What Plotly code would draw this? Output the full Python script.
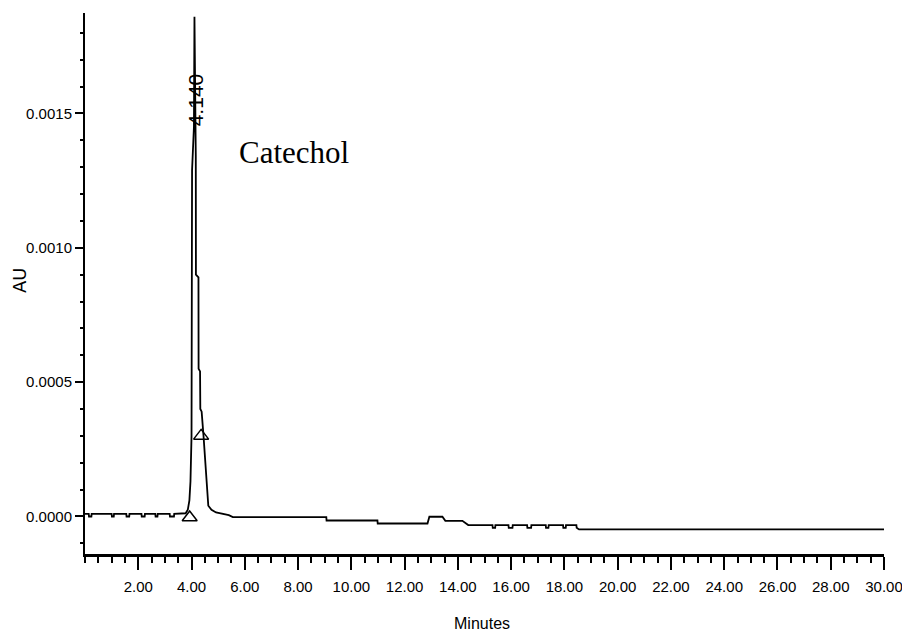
import plotly.graph_objects as go

# Chromatogram trace: retention time (min) and absorbance (AU)
time_min = [
    0.00, 0.14, 0.15, 0.24, 0.25, 1.00, 1.01, 1.08, 1.09, 1.55, 1.56, 1.66,
    1.67, 2.12, 2.13, 2.24, 2.25, 2.64, 2.65, 2.72, 2.73, 3.18, 3.19, 3.34,
    3.35, 3.78, 3.86, 3.92, 3.96, 4.00, 4.02, 4.09, 4.11, 4.13, 4.16, 4.165,
    4.26, 4.265, 4.32, 4.33, 4.38, 4.45, 4.52, 4.58, 4.63, 4.75, 4.92, 5.40,
    5.55, 9.06, 9.07, 10.98, 10.99, 12.86, 12.93, 13.42, 13.53, 14.17, 14.39,
    15.30, 15.31, 15.40, 15.41, 15.90, 15.91, 16.05, 16.06, 16.60, 16.61,
    16.75, 16.76, 17.30, 17.31, 17.40, 17.41, 17.95, 17.96, 18.05, 18.06,
    18.45, 18.46, 18.55, 18.70, 30.00,
]
absorbance_au = [
    0.000010, 0.000010, 0.000000, 0.000000, 0.000010, 0.000010, 0.000000,
    0.000000, 0.000010, 0.000010, 0.000000, 0.000000, 0.000010, 0.000010,
    0.000000, 0.000000, 0.000010, 0.000010, 0.000000, 0.000000, 0.000010,
    0.000010, 0.000000, 0.000000, 0.000010, 0.000012, 0.000025, 0.000060,
    0.000130, 0.000300, 0.001290, 0.001450, 0.001860, 0.001700, 0.001340,
    0.000900, 0.000890, 0.000550, 0.000540, 0.000400, 0.000390, 0.000300,
    0.000200, 0.000100, 0.000040, 0.000025, 0.000015, 0.000005, -0.000002,
    -0.000002, -0.000015, -0.000015, -0.000026, -0.000026, -0.000001,
    -0.000001, -0.000016, -0.000016, -0.000032, -0.000032, -0.000042,
    -0.000042, -0.000032, -0.000032, -0.000042, -0.000042, -0.000032,
    -0.000032, -0.000042, -0.000042, -0.000032, -0.000032, -0.000042,
    -0.000042, -0.000032, -0.000032, -0.000042, -0.000042, -0.000032,
    -0.000032, -0.000042, -0.000048, -0.000048, -0.000048,
]

# Integration markers (peak start / peak end)
marker_time = [3.93, 4.36]
marker_au = [-0.000004, 0.000300]

# Axis ticks
x_tick_vals = [2, 4, 6, 8, 10, 12, 14, 16, 18, 20, 22, 24, 26, 28, 30]
x_tick_text = ["2.00", "4.00", "6.00", "8.00", "10.00", "12.00", "14.00",
               "16.00", "18.00", "20.00", "22.00", "24.00", "26.00",
               "28.00", "30.00"]
y_tick_vals = [0.0, 0.0005, 0.0010, 0.0015]
y_tick_text = ["0.0000", "0.0005", "0.0010", "0.0015"]

peak_label = "4.140"
peak_label_time = 4.14
peak_label_au = 0.00155
compound_name = "Catechol"

SANS = "Liberation Sans, Arial, sans-serif"
SERIF = "Liberation Serif, Times New Roman, serif"

# plot-area box in pixels (used to place free text in paper coordinates)
L, R, T, B = 85, 884, 13, 554


def px_x(px):
    return (px - L) / (R - L)


def px_y(py):
    return (B - py) / (B - T)


fig = go.Figure()
fig.add_trace(go.Scatter(
    x=time_min, y=absorbance_au, mode="lines",
    line=dict(color="black", width=1.8), hoverinfo="skip", showlegend=False,
))
fig.add_trace(go.Scatter(
    x=marker_time, y=marker_au, mode="markers",
    marker=dict(symbol="triangle-up-open", size=13, color="black",
                line=dict(color="black", width=1.5)),
    hoverinfo="skip", showlegend=False,
))

annotations = [
    dict(x=peak_label_time, y=peak_label_au, xref="x", yref="y",
         text=peak_label, textangle=-90, showarrow=False,
         font=dict(family=SANS, size=21, color="black")),
    dict(x=px_x(237), y=px_y(152), xref="paper", yref="paper",
         text=compound_name, showarrow=False, xanchor="left",
         yanchor="middle", font=dict(family=SERIF, size=31, color="black")),
    dict(text="AU", textangle=-90, xref="paper", yref="paper",
         x=px_x(19), y=px_y(280), showarrow=False,
         xanchor="center", yanchor="middle",
         font=dict(family="DejaVu Sans, sans-serif", size=18,
                   color="black")),
    dict(text="Minutes", xref="paper", yref="paper",
         x=px_x(482), y=px_y(623), showarrow=False,
         xanchor="center", yanchor="middle",
         font=dict(family=SANS, size=16, color="black")),
]

fig.update_layout(
    width=902, height=639,
    margin=dict(l=L, r=902 - R, t=T, b=639 - B),
    paper_bgcolor="white", plot_bgcolor="white",
    font=dict(family=SANS, size=15, color="black"),
    annotations=annotations,
)

fig.update_xaxes(
    range=[0, 30], showgrid=False, zeroline=False, automargin=False,
    showline=True, linecolor="black", linewidth=2.5,
    tickmode="array", tickvals=x_tick_vals, ticktext=x_tick_text,
    ticks="outside", ticklen=13, tickwidth=2, tickcolor="black",
    tickfont=dict(family=SANS, size=15), ticklabeloverflow="allow",
    ticklabelstandoff=4,
    minor=dict(tick0=0, dtick=0.5, ticks="outside", ticklen=6,
               tickwidth=2, tickcolor="black"),
)
fig.update_yaxes(
    range=[-0.0001396, 0.001874], showgrid=False, zeroline=False,
    automargin=False,
    showline=True, linecolor="black", linewidth=2,
    tickmode="array", tickvals=y_tick_vals, ticktext=y_tick_text,
    ticks="outside", ticklen=8, tickwidth=2, tickcolor="black",
    tickfont=dict(family=SANS, size=15), ticklabeloverflow="allow",
    minor=dict(tick0=0, dtick=0.0001, ticks="outside", ticklen=3,
               tickwidth=2, tickcolor="black"),
)

fig.write_html("out.html")
